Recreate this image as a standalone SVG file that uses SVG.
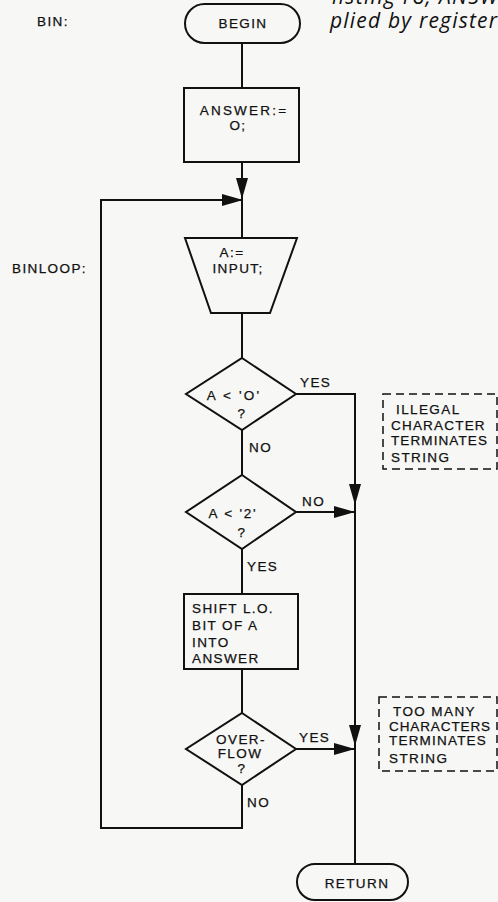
<svg xmlns="http://www.w3.org/2000/svg" width="498" height="902" viewBox="0 0 498 902">
<style>
.bg{fill:#f7f7f5}
.shape{fill:none;stroke:#111;stroke-width:2}
.dash{fill:none;stroke:#111;stroke-width:1.5;stroke-dasharray:8 5}
.line{fill:none;stroke:#111;stroke-width:2}
.t{font-family:"Liberation Sans","DejaVu Sans",sans-serif;font-size:13.5px;letter-spacing:1.4px;fill:#111;stroke:#111;stroke-width:0.25}
.c{text-anchor:middle}
.it{font-family:"Open Sans","DejaVu Sans",sans-serif;font-style:italic;font-size:21px;fill:#111}
</style>
<defs>
<marker id="ah" markerUnits="userSpaceOnUse" markerWidth="22" markerHeight="14" refX="21" refY="7" orient="auto">
<path d="M0,1 L21,7 L0,13 Z" fill="#111"/>
</marker>
</defs>
<rect class="bg" x="0" y="0" width="498" height="902"/>
<g id="article-text">
<text class="it" x="332" y="4" textLength="166" lengthAdjust="spacing">listing r8, ANSW</text>
<text class="it" x="330" y="28" textLength="167" lengthAdjust="spacing">plied by register</text>
</g>
<g id="labels">
<text class="t" x="37" y="26">BIN:</text>
<text class="t" x="12" y="273">BINLOOP:</text>
</g>
<g id="connectors">
<path class="line" d="M242,43 V88"/>
<path class="line" d="M242,162 V199" marker-end="url(#ah)"/>
<path class="line" d="M242,785 V828 H101 V200 H243" marker-end="url(#ah)"/>
<path class="line" d="M242,199 V238"/>
<path class="line" d="M242,313 V358"/>
<path class="line" d="M242,430 V475"/>
<path class="line" d="M242,549 V594"/>
<path class="line" d="M242,669 V713"/>
<path class="line" d="M296,394 H355 V505" marker-end="url(#ah)"/>
<path class="line" d="M296,512 H355" marker-end="url(#ah)"/>
<path class="line" d="M355,505 V746" marker-end="url(#ah)"/>
<path class="line" d="M296,749 H355" marker-end="url(#ah)"/>
<path class="line" d="M355,746 V864"/>
<text class="t" x="300" y="387">YES</text>
<text class="t" x="249" y="452">NO</text>
<text class="t" x="302" y="506">NO</text>
<text class="t" x="247" y="571">YES</text>
<text class="t" x="299" y="742">YES</text>
<text class="t" x="247" y="807">NO</text>
</g>
<g id="begin">
<rect class="shape" x="185" y="4" width="115" height="39" rx="19.5"/>
<text class="t c" x="243" y="28">BEGIN</text>
</g>
<g id="init">
<rect class="shape" x="184" y="88" width="115" height="74"/>
<text class="t c" x="244" y="115" style="letter-spacing:2.2px">ANSWER:=</text>
<text class="t c" x="238" y="130">O;</text>
</g>
<g id="input">
<polygon class="shape" points="185,238 297,238 270,313 211,313"/>
<text class="t c" x="232" y="257">A:=</text>
<text class="t c" x="238" y="273">INPUT;</text>
</g>
<g id="test0">
<polygon class="shape" points="242,358 296,394 242,430 186,394"/>
<text class="t c" x="234" y="400" style="letter-spacing:2.2px">A &lt; 'O'</text>
<text class="t c" x="242" y="418">?</text>
</g>
<g id="test2">
<polygon class="shape" points="242,475 296,512 242,549 186,512"/>
<text class="t c" x="233" y="518" style="letter-spacing:1.8px">A &lt; '2'</text>
<text class="t c" x="242" y="537">?</text>
</g>
<g id="shift">
<rect class="shape" x="184" y="594" width="114" height="75"/>
<text class="t" x="192" y="613">SHIFT L.O.</text>
<text class="t" x="192" y="630">BIT OF A</text>
<text class="t" x="192" y="647">INTO</text>
<text class="t" x="192" y="663">ANSWER</text>
</g>
<g id="overflow">
<polygon class="shape" points="242,713 296,749 242,785 186,749"/>
<text class="t c" x="241" y="744">OVER-</text>
<text class="t c" x="240" y="758">FLOW</text>
<text class="t c" x="242" y="773">?</text>
</g>
<g id="return">
<rect class="shape" x="297" y="864" width="111" height="36" rx="18"/>
<text class="t c" x="357" y="888">RETURN</text>
</g>
<g id="note1">
<rect class="dash" x="383" y="394" width="114" height="75"/>
<text class="t" x="396" y="414">ILLEGAL</text>
<text class="t" x="391" y="430" style="letter-spacing:1.2px">CHARACTER</text>
<text class="t" x="391" y="445" style="letter-spacing:1.1px">TERMINATES</text>
<text class="t" x="391" y="462">STRING</text>
</g>
<g id="note2">
<rect class="dash" x="379" y="697" width="118" height="74"/>
<text class="t" x="393" y="716">TOO MANY</text>
<text class="t" x="389" y="731" style="letter-spacing:0.9px">CHARACTERS</text>
<text class="t" x="389" y="745" style="letter-spacing:1.2px">TERMINATES</text>
<text class="t" x="389" y="763">STRING</text>
</g>
</svg>
